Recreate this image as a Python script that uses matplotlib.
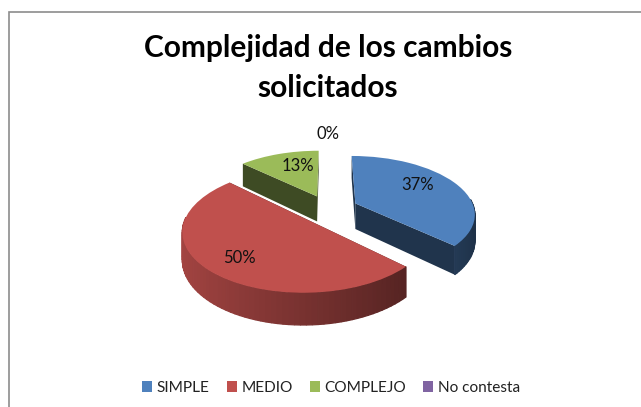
import numpy as np
import matplotlib
matplotlib.use("Agg")
import matplotlib.pyplot as plt
from matplotlib.patches import Polygon, Rectangle
from matplotlib.transforms import Transform

categories = ["SIMPLE", "MEDIO", "COMPLEJO", "No contesta"]
values = [37, 50, 13, 0]
colors = ["#4f81bd", "#c0504d", "#9bbb59", "#8064a2"]

# where the percent labels sit, in pixels
label_x = [418, 239, 298, 328]
label_y = [185, 258, 166, 134]

# look of the tilted pie, fitted by eye against the picture
cx, cy = 328.5, 209
rx, ry = 119, 57
persp = 0.165
depth = 26
explode = 0.25

plt.rcParams['font.family'] = ['Lato', 'DejaVu Sans']


def project(xy):
    xy = np.atleast_2d(xy)
    w = 1 + persp * xy[:, 1]
    return np.column_stack([cx + rx * xy[:, 0] / w, cy - ry * xy[:, 1] / w])


class Tilt(Transform):
    input_dims = 2
    output_dims = 2

    def transform_non_affine(self, values):
        return project(values)


def shade(color, f):
    return tuple(c * f for c in matplotlib.colors.to_rgb(color))


def drop(xy):
    # same point at the bottom of the slab, nearer points look thicker
    w = 1 + persp * xy[:, 1]
    out = project(xy)
    out[:, 1] += depth / w
    return out


fig = plt.figure(figsize=(6.41, 4.07), dpi=100)
ax = fig.add_axes([0, 0, 1, 1])

wedges, _ = ax.pie(values, colors=colors, startangle=90, counterclock=False,
                   radius=1, explode=[explode] * 4)

ax.set_aspect('auto')
ax.set_xlim(0, 641)
ax.set_ylim(407, 0)
ax.axis('off')

ax.add_patch(Rectangle((9, 12), 640, 400, fc='white', ec='#8c8c8c', lw=1.2, zorder=0))

tilt = Tilt() + ax.transData
order = [2, 0, 1]
for n, i in enumerate(order):
    w = wedges[i]
    z = 2 + n * 2
    center = np.array(w.center)
    t = np.radians(np.linspace(w.theta1, w.theta2, 80))
    arc = center + np.column_stack([np.cos(t), np.sin(t)])

    # cut faces
    for end in (arc[0], arc[-1]):
        edge = np.array([center, end])
        pts = np.vstack([project(edge), drop(edge)[::-1]])
        ax.add_patch(Polygon(pts, fc=shade(colors[i], 0.4), ec='none', zorder=z))

    # outer wall, darker toward the right, only the part facing us
    top = project(arc)
    bot = drop(arc)
    for k in range(len(arc) - 1):
        if np.sin(t[k]) > 0.05:
            continue
        pts = [top[k], top[k + 1], bot[k + 1], bot[k]]
        f = 0.62 - 0.24 * np.cos(t[k])
        c = shade(colors[i], f)
        ax.add_patch(Polygon(pts, fc=c, ec=c, lw=0.9, zorder=z))

    w.set_transform(tilt)
    w.set_clip_on(False)
    w.set_zorder(z + 1)

for v, x, y in zip(values, label_x, label_y):
    ax.text(x, y, f"{v}%", ha='center', va='center', fontsize=12, color='#111111', zorder=10)

ax.text(328, 48, "Complejidad de los cambios", ha='center', va='center',
        fontsize=21.5, fontweight='bold', color='black')
ax.text(328, 88, "solicitados", ha='center', va='center',
        fontsize=21.5, fontweight='bold', color='black')

ax.legend(wedges, categories, ncol=4, loc='center', bbox_to_anchor=(331 / 641, 1 - 388 / 407),
          frameon=False, fontsize=11.1, handlelength=0.65, handleheight=0.65,
          handletextpad=0.3, columnspacing=1.1, labelcolor='#222222')

fig.savefig("out.png", dpi=100)
